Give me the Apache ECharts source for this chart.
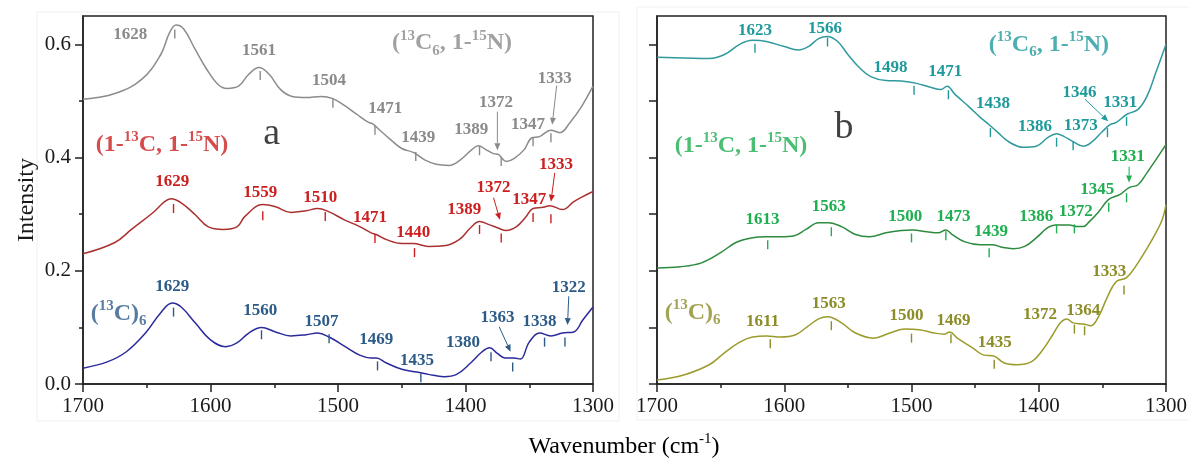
<!DOCTYPE html>
<html>
<head>
<meta charset="utf-8">
<script src="https://cdn.jsdelivr.net/npm/echarts@6.0.0/dist/echarts.min.js"></script>
<style>
  html, body { margin: 0; padding: 0; background: #fff; }
  #chart { width: 1189px; height: 460px; }
</style>
</head>
<body>
<div id="chart"></div>
<script>
// spectra: [wavenumber, intensity]
const grayCurve = [[1700,0.503],[1675,0.513],[1654,0.538],[1639,0.582],[1632,0.621],[1627,0.634],[1621,0.627],[1612,0.591],[1603,0.556],[1594,0.529],[1587,0.522],[1578,0.526],[1570,0.547],[1562,0.559],[1554,0.547],[1545,0.52],[1536,0.508],[1525,0.506],[1513,0.508],[1504,0.504],[1495,0.492],[1485,0.476],[1476,0.462],[1473,0.46],[1468,0.45],[1459,0.432],[1450,0.416],[1441,0.409],[1432,0.396],[1423,0.388],[1413,0.386],[1404,0.396],[1395,0.414],[1390,0.421],[1384,0.414],[1378,0.407],[1374,0.405],[1368,0.393],[1362,0.398],[1354,0.414],[1348,0.435],[1342,0.437],[1333,0.448],[1326,0.444],[1318,0.462],[1309,0.49],[1300,0.526]]
const redCurve = [[1700,0.23],[1675,0.25],[1662,0.273],[1645,0.303],[1636,0.322],[1631,0.327],[1623,0.32],[1612,0.299],[1602,0.278],[1590,0.273],[1579,0.278],[1573,0.296],[1559,0.317],[1549,0.313],[1537,0.303],[1525,0.306],[1516,0.31],[1507,0.304],[1495,0.29],[1483,0.278],[1474,0.267],[1470,0.264],[1462,0.255],[1450,0.248],[1441,0.248],[1429,0.243],[1417,0.244],[1405,0.255],[1396,0.276],[1389,0.287],[1381,0.281],[1375,0.276],[1368,0.271],[1360,0.278],[1353,0.294],[1347,0.31],[1339,0.312],[1334,0.315],[1324,0.308],[1315,0.322],[1308,0.331],[1300,0.34]]
const blueCurve = [[1700,0.028],[1681,0.039],[1666,0.057],[1651,0.09],[1639,0.126],[1630,0.143],[1623,0.136],[1612,0.108],[1600,0.078],[1588,0.066],[1579,0.073],[1570,0.09],[1560,0.1],[1549,0.092],[1537,0.085],[1525,0.087],[1516,0.09],[1507,0.083],[1495,0.067],[1483,0.051],[1474,0.046],[1470,0.046],[1462,0.037],[1450,0.026],[1438,0.021],[1429,0.017],[1417,0.013],[1407,0.017],[1396,0.037],[1387,0.057],[1381,0.064],[1375,0.054],[1369,0.046],[1362,0.046],[1357,0.044],[1350,0.074],[1342,0.09],[1333,0.085],[1324,0.09],[1315,0.092],[1308,0.113],[1300,0.136]]
const tealCurve = [[1700,0.577],[1679,0.576],[1659,0.575],[1647,0.582],[1635,0.6],[1625,0.607],[1614,0.605],[1600,0.596],[1589,0.59],[1581,0.596],[1573,0.61],[1566,0.614],[1558,0.605],[1550,0.582],[1541,0.559],[1532,0.543],[1520,0.536],[1508,0.535],[1496,0.531],[1485,0.524],[1477,0.52],[1472,0.526],[1466,0.512],[1455,0.49],[1446,0.471],[1439,0.458],[1432,0.444],[1423,0.427],[1412,0.418],[1402,0.42],[1393,0.435],[1386,0.442],[1380,0.437],[1373,0.428],[1365,0.42],[1358,0.428],[1350,0.446],[1344,0.458],[1339,0.462],[1331,0.476],[1322,0.485],[1315,0.508],[1308,0.55],[1300,0.6]]
const greenCurve = [[1700,0.205],[1682,0.207],[1665,0.214],[1650,0.232],[1638,0.25],[1626,0.258],[1614,0.26],[1603,0.26],[1592,0.262],[1583,0.273],[1573,0.285],[1565,0.285],[1555,0.278],[1544,0.264],[1533,0.26],[1520,0.267],[1508,0.271],[1499,0.272],[1488,0.269],[1479,0.267],[1473,0.272],[1468,0.264],[1458,0.251],[1446,0.246],[1437,0.246],[1428,0.241],[1420,0.239],[1411,0.243],[1402,0.258],[1393,0.276],[1387,0.281],[1376,0.281],[1370,0.278],[1365,0.278],[1361,0.285],[1353,0.304],[1345,0.326],[1336,0.335],[1329,0.347],[1322,0.352],[1315,0.373],[1308,0.396],[1300,0.423]]
const oliveCurve = [[1700,0.007],[1679,0.016],[1659,0.034],[1647,0.055],[1635,0.074],[1625,0.083],[1614,0.085],[1603,0.083],[1591,0.087],[1582,0.101],[1573,0.115],[1566,0.119],[1555,0.108],[1544,0.09],[1530,0.081],[1517,0.09],[1505,0.097],[1494,0.096],[1482,0.09],[1474,0.088],[1470,0.092],[1464,0.081],[1452,0.064],[1443,0.051],[1436,0.05],[1427,0.037],[1417,0.034],[1406,0.039],[1398,0.057],[1389,0.087],[1383,0.108],[1378,0.115],[1373,0.108],[1365,0.106],[1359,0.103],[1353,0.119],[1346,0.154],[1339,0.181],[1331,0.188],[1322,0.214],[1314,0.243],[1308,0.267],[1303,0.29],[1300,0.317]]

// peak marks: [wavenumber, tick level, label wavenumber, label level]
const grayPeaks = [[1628,0.618,1663,0.618],[1561,0.545,1562,0.588],[1504,0.496,1507,0.536],[1471,0.448,1463,0.487],[1439,0.402,1437,0.435],[1389,0.412,1395.5,0.45],[1372,0.393,1376,0.497],[1347,0.428,1351,0.458],[1333,0.435,1330,0.54]]
const redPeaks = [[1629,0.31,1630,0.358],[1559,0.297,1561,0.338],[1510,0.296,1514,0.329],[1471,0.257,1475,0.294],[1440,0.232,1441,0.267],[1389,0.273,1401,0.308],[1372,0.258,1378,0.347],[1347,0.294,1350,0.326],[1333,0.292,1329,0.388]]
const bluePeaks = [[1629,0.127,1630,0.172],[1560,0.087,1561,0.129],[1507,0.08,1513,0.11],[1469,0.032,1470,0.078],[1435,0.011,1438,0.042],[1380,0.048,1402,0.073],[1363,0.03,1375,0.117],[1338,0.074,1342,0.11],[1322,0.074,1319,0.17]]
const tealPeaks = [[1623,0.593,1623,0.625],[1566,0.604,1568,0.627],[1498,0.519,1516.5,0.559],[1471,0.511,1473.5,0.552],[1438,0.444,1436,0.496],[1386,0.427,1403,0.455],[1373,0.421,1367,0.457],[1346,0.444,1368,0.515],[1331,0.464,1336,0.497]]
const greenPeaks = [[1613,0.246,1617,0.29],[1563,0.269,1565,0.313],[1500,0.258,1505,0.296],[1473,0.262,1467,0.296],[1439,0.232,1437.5,0.269],[1386,0.274,1402,0.296],[1372,0.274,1371,0.305],[1345,0.312,1354,0.343],[1331,0.329,1330,0.402]]
const olivePeaks = [[1611,0.071,1617,0.11],[1563,0.103,1565,0.142],[1500,0.081,1504,0.12],[1469,0.08,1467,0.112],[1435,0.035,1434.5,0.073],[1372,0.097,1399,0.122],[1364,0.094,1365,0.129],[1333,0.166,1344.5,0.198]]

// arrows: [from wn, from level, to wn, to level]
const grayArrows = [[1375,0.481,1375,0.413],[1328.5,0.527,1332,0.458]]
const redArrows = [[1378,0.329,1373,0.29],[1330,0.373,1333,0.322]]
const blueArrows = [[1373.6,0.101,1364.6,0.057],[1319,0.155,1320,0.104]]
const tealArrows = [[1363.7,0.503,1345.4,0.464]]
const greenArrows = [[1329,0.384,1329,0.356]]

// sample names and panel letters: [wn, level]
const namePosLeft = { gray: [1410.6, 0.602], red: [1638, 0.423], blue: [1672, 0.124], letter: [1552, 0.442] }
const namePosRight = { teal: [1392, 0.6], green: [1634, 0.421], olive: [1672, 0.126], letter: [1553, 0.453] }

const xTicks = [1300, 1700]
const yMajor = [0, 0.2, 0.4, 0.6]
const yMinor = [0.1, 0.3, 0.5]
const yRight = [0, 0.1, 0.2, 0.3, 0.4, 0.5, 0.6]

const FONT = '"Liberation Serif", "Times New Roman", serif'
const C = {
  gray: ['#8c8c8c', '#8a8a8a'],
  red: ['#ab3030', '#cc1f1f'],
  blue: ['#2a2a9c', '#2d5b88'],
  teal: ['#2f9a9e', '#1f9a9c'],
  green: ['#2e8b3e', '#1fae50'],
  olive: ['#9b9b2c', '#8c8c28']
}

const chart = echarts.init(document.getElementById('chart'))

function xAx (grid) {
  return {
    type: 'value', gridIndex: grid, min: xTicks[0], max: xTicks[1], interval: 100, inverse: true,
    axisLine: { show: true, onZero: false, lineStyle: { color: '#222', width: 1.5 } },
    axisTick: { show: true, inside: false, length: 8, lineStyle: { color: '#222', width: 1.5 } },
    minorTick: { show: true, splitNumber: 2, length: 4, lineStyle: { color: '#222', width: 1.5 } },
    axisLabel: { color: '#1a1a1a', fontFamily: FONT, fontSize: 21, margin: 12, formatter: v => String(v) },
    splitLine: { show: false },
    minorSplitLine: { show: false }
  }
}

function lineS (xi, yi, data, color) {
  return {
    type: 'line', xAxisIndex: xi, yAxisIndex: yi, data: data,
    smooth: 0.4, symbol: 'none', silent: true,
    lineStyle: { color: color, width: 1.5 }
  }
}

// tick under each band + its wavenumber
function peakS (xi, yi, data, color) {
  return {
    type: 'custom', xAxisIndex: xi, yAxisIndex: yi, data: data, silent: true, z: 5,
    encode: { x: 0, y: 1 },
    renderItem: function (params, api) {
      const t = api.coord([api.value(0), api.value(1)])
      const l = api.coord([api.value(2), api.value(3)])
      return {
        type: 'group',
        children: [
          { type: 'line', shape: { x1: t[0], y1: t[1] - 4.5, x2: t[0], y2: t[1] + 4.5 }, style: { stroke: color, lineWidth: 1.4 } },
          { type: 'text', style: { text: String(api.value(0)), x: l[0], y: l[1], align: 'center', verticalAlign: 'middle', font: 'bold 17px ' + FONT, fill: color } }
        ]
      }
    }
  }
}

function arrowS (xi, yi, data, color) {
  return {
    type: 'custom', xAxisIndex: xi, yAxisIndex: yi, data: data, silent: true, z: 5,
    encode: { x: 0, y: 1 },
    renderItem: function (params, api) {
      const a = api.coord([api.value(0), api.value(1)])
      const b = api.coord([api.value(2), api.value(3)])
      const ang = Math.atan2(b[1] - a[1], b[0] - a[0])
      const L = 7, W = 3
      const bx = b[0] - L * Math.cos(ang), by = b[1] - L * Math.sin(ang)
      const px = -Math.sin(ang) * W, py = Math.cos(ang) * W
      return {
        type: 'group',
        children: [
          { type: 'line', shape: { x1: a[0], y1: a[1], x2: bx, y2: by }, style: { stroke: color, lineWidth: 1 } },
          { type: 'polygon', shape: { points: [[b[0], b[1]], [bx + px, by + py], [bx - px, by - py]] }, style: { fill: color } }
        ]
      }
    }
  }
}

function rich (color, size, weight) {
  const base = { fontFamily: FONT, fontWeight: weight, color: color }
  const s = Math.round(size * 0.62)
  return {
    n: Object.assign({ fontSize: size, lineHeight: size + 6 }, base),
    sp: Object.assign({ fontSize: s, lineHeight: s, verticalAlign: 'top' }, base),
    sb: Object.assign({ fontSize: s, lineHeight: s, verticalAlign: 'bottom' }, base)
  }
}

function textS (xi, yi, pos, text, color, size, weight) {
  return {
    type: 'scatter', xAxisIndex: xi, yAxisIndex: yi, data: [pos], silent: true, z: 6,
    symbolSize: 1, itemStyle: { color: 'rgba(0,0,0,0)' },
    label: { show: true, position: 'inside', formatter: text, rich: rich(color, size, weight) }
  }
}

const T_C6N = '{n|(}{sp|13}{n|C}{sb|6}{n|, 1-}{sp|15}{n|N)}'
const T_1C1N = '{n|(1-}{sp|13}{n|C, 1-}{sp|15}{n|N)}'
const T_C_6 = '{n|(}{sp|13}{n|C)}{sb|6}'

const option = {
  animation: false,
  backgroundColor: '#fff',
  grid: [
    { left: 83, right: 596, top: 16, bottom: 76, show: true, borderColor: '#222', borderWidth: 1.5, outerBoundsMode: 'none' },
    { left: 657, right: 23, top: 16, bottom: 76, show: true, borderColor: '#222', borderWidth: 1.5, outerBoundsMode: 'none' }
  ],
  graphic: [
    { type: 'rect', shape: { x: 37, y: 12, width: 582, height: 409 }, style: { fill: 'none', stroke: '#f1f1f1', lineWidth: 1 }, silent: true },
    { type: 'rect', shape: { x: 637, y: 7, width: 560, height: 413 }, style: { fill: 'none', stroke: '#f1f1f1', lineWidth: 1 }, silent: true },
    {
      type: 'text', x: 624, y: 447, silent: true,
      style: {
        text: '{n|Wavenumber (cm}{sp|-1}{n|)}', align: 'center', verticalAlign: 'middle',
        rich: rich('#1a1a1a', 24, 'normal')
      }
    }
  ],
  xAxis: [xAx(0), xAx(1)],
  yAxis: [
    {
      type: 'value', gridIndex: 0, min: 0, max: 0.65, interval: 0.2,
      name: 'Intensity', nameLocation: 'middle', nameGap: 44, nameRotate: 90,
      nameTextStyle: { fontFamily: FONT, fontSize: 24, color: '#1a1a1a' },
      axisLine: { show: true, onZero: false, lineStyle: { color: '#222', width: 1.5 } },
      axisTick: { show: true, length: 8, customValues: yMajor, lineStyle: { color: '#222', width: 1.5 } },
      axisLabel: { customValues: yMajor, color: '#1a1a1a', fontFamily: FONT, fontSize: 21, margin: 12, formatter: v => v.toFixed(1) },
      splitLine: { show: false }
    },
    {
      type: 'value', gridIndex: 0, position: 'left', min: 0, max: 0.65, interval: 0.1,
      axisLine: { show: false },
      axisTick: { show: true, length: 4, customValues: yMinor, lineStyle: { color: '#222', width: 1.5 } },
      axisLabel: { show: false },
      splitLine: { show: false }
    },
    {
      type: 'value', gridIndex: 1, position: 'left', min: 0, max: 0.65, interval: 0.1,
      axisLine: { show: true, onZero: false, lineStyle: { color: '#222', width: 1.5 } },
      axisTick: { show: true, length: 8, customValues: yRight, lineStyle: { color: '#222', width: 1.5 } },
      axisLabel: { show: false },
      splitLine: { show: false }
    }
  ],
  series: [
    lineS(0, 0, grayCurve, C.gray[0]),
    lineS(0, 0, redCurve, C.red[0]),
    lineS(0, 0, blueCurve, C.blue[0]),
    lineS(1, 2, tealCurve, C.teal[0]),
    lineS(1, 2, greenCurve, C.green[0]),
    lineS(1, 2, oliveCurve, C.olive[0]),

    peakS(0, 0, grayPeaks, C.gray[1]),
    peakS(0, 0, redPeaks, C.red[1]),
    peakS(0, 0, bluePeaks, C.blue[1]),
    peakS(1, 2, tealPeaks, C.teal[1]),
    peakS(1, 2, greenPeaks, C.green[1]),
    peakS(1, 2, olivePeaks, C.olive[1]),

    arrowS(0, 0, grayArrows, C.gray[1]),
    arrowS(0, 0, redArrows, C.red[1]),
    arrowS(0, 0, blueArrows, C.blue[1]),
    arrowS(1, 2, tealArrows, C.teal[1]),
    arrowS(1, 2, greenArrows, C.green[1]),

    textS(0, 0, namePosLeft.gray, T_C6N, C.gray[1], 24, 'bold'),
    textS(0, 0, namePosLeft.red, T_1C1N, C.red[1], 24, 'bold'),
    textS(0, 0, namePosLeft.blue, T_C_6, C.blue[1], 24, 'bold'),
    textS(0, 0, namePosLeft.letter, '{n|a}', '#111', 38, 'normal'),
    textS(1, 2, namePosRight.teal, T_C6N, C.teal[1], 24, 'bold'),
    textS(1, 2, namePosRight.green, T_1C1N, C.green[1], 24, 'bold'),
    textS(1, 2, namePosRight.olive, T_C_6, C.olive[1], 24, 'bold'),
    textS(1, 2, namePosRight.letter, '{n|b}', '#111', 38, 'normal')
  ]
}
chart.setOption(option)
</script>
</body>
</html>
